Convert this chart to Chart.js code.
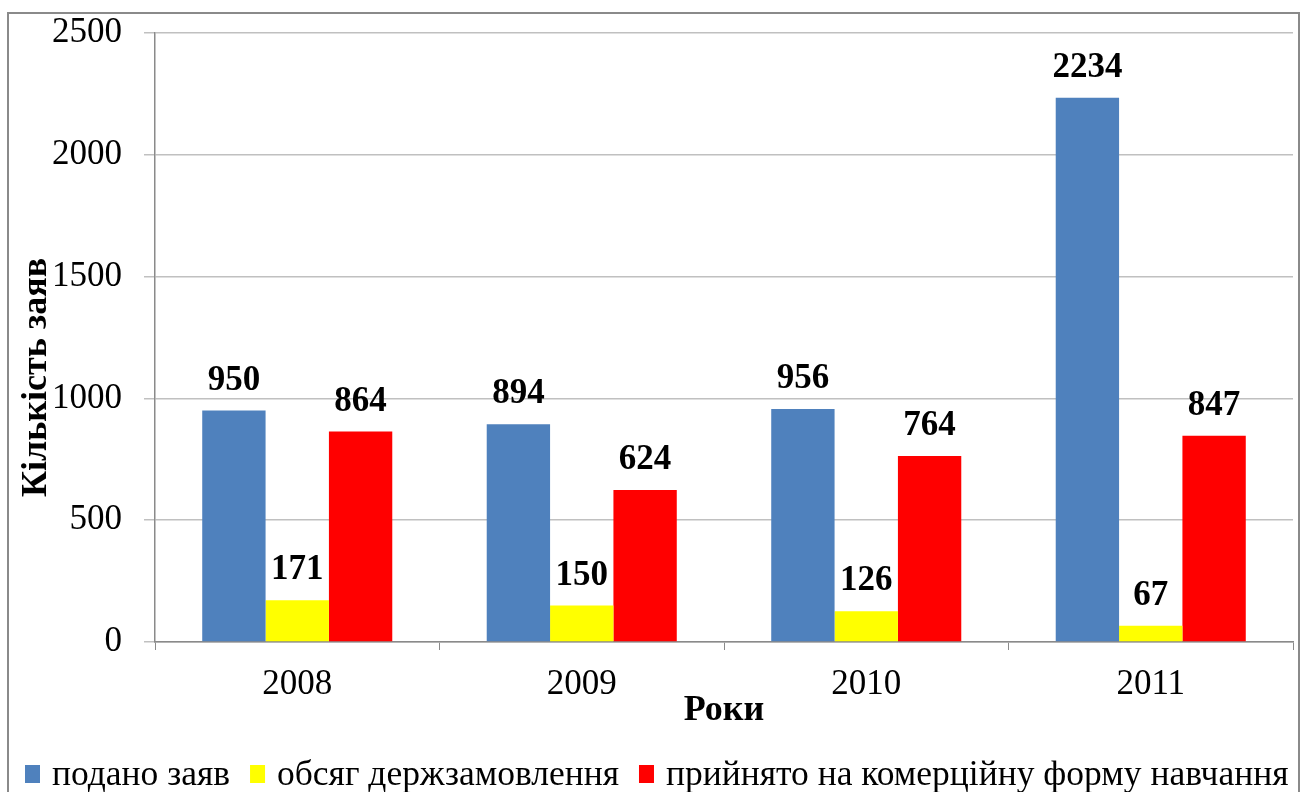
<!DOCTYPE html>
<html>
<head>
<meta charset="utf-8">
<script src="https://cdn.jsdelivr.net/npm/chart.js@4/dist/chart.umd.min.js"></script>
<style>
  body { margin: 0; background: #fff; }
  #wrap { position: relative; width: 1300px; height: 792px; overflow: hidden; }
  #frame { position: absolute; left: 7px; top: 12px; width: 1289px; height: 800px;
           border: 2px solid #8a8a8a; }
  canvas { position: absolute; left: 0; top: 0; }
</style>
</head>
<body>
<div id="wrap">
  <div id="frame"></div>
  <canvas id="chart" width="1300" height="800"></canvas>
</div>
<script>
// Data
var years = ['2008', '2009', '2010', '2011'];
var submitted = [950, 894, 956, 2234];
var stateOrder = [171, 150, 126, 67];
var commercial = [864, 624, 764, 847];
var seriesNames = ['подано заяв', 'обсяг держзамовлення', 'прийнято на комерційну форму навчання'];
var seriesColors = ['#4f81bd', '#ffff00', '#ff0000'];
var yTicks = [0, 500, 1000, 1500, 2000, 2500];
var yTitle = 'Кількість заяв';

var serif = "'Liberation Serif', 'Times New Roman', serif";
Chart.defaults.font.family = serif;
Chart.defaults.color = '#000';

// value labels, y axis title (a bit below centre in the original) and the legend row
var extras = {
  id: 'extras',
  afterDatasetsDraw: function(chart) {
    var ctx = chart.ctx;
    ctx.save();
    ctx.font = 'bold 35px ' + serif;
    ctx.fillStyle = '#000';
    ctx.textAlign = 'center';
    ctx.textBaseline = 'middle';
    chart.data.datasets.forEach(function(ds, i) {
      chart.getDatasetMeta(i).data.forEach(function(bar, j) {
        ctx.fillText(ds.data[j], bar.x, bar.y - 30);
      });
    });
    ctx.restore();
  },
  afterDraw: function(chart) {
    var ctx = chart.ctx;
    var area = chart.chartArea;
    ctx.save();
    ctx.translate(37, (area.top + area.bottom) / 2 + 40);
    ctx.rotate(-Math.PI / 2);
    ctx.font = 'bold 36px ' + serif;
    ctx.fillStyle = '#000';
    ctx.textAlign = 'center';
    ctx.textBaseline = 'middle';
    ctx.fillText(yTitle, 0, 0);
    ctx.restore();

    // legend
    ctx.save();
    ctx.font = '35.5px ' + serif;
    ctx.textBaseline = 'alphabetic';
    var x = 25, base = 785;
    chart.data.datasets.forEach(function(ds) {
      ctx.fillStyle = ds.backgroundColor;
      ctx.fillRect(x, base - 20, 15, 18);
      x += 27;
      ctx.fillStyle = '#000';
      ctx.fillText(ds.label, x, base);
      x += ctx.measureText(ds.label).width + 20;
    });
    ctx.restore();
  }
};

var ctx = document.getElementById('chart').getContext('2d');
var myChart = new Chart(ctx, {
  type: 'bar',
  data: {
    labels: years,
    datasets: seriesNames.map(function(name, i) {
      return {
        label: name,
        data: [submitted, stateOrder, commercial][i],
        backgroundColor: seriesColors[i]
      };
    })
  },
  options: {
    responsive: false,
    animation: false,
    devicePixelRatio: 1,
    categoryPercentage: 0.668,
    barPercentage: 1,
    layout: { padding: { left: 14, right: 7, top: 33, bottom: 52 } },
    plugins: {
      tooltip: { enabled: false },
      legend: { display: false }
    },
    scales: {
      x: {
        afterFit: function(scale) { scale.height = 106; },
        grid: { drawOnChartArea: false, color: '#8a8a8a', tickLength: 8 },
        border: { color: '#8a8a8a', width: 1.5 },
        ticks: { font: { size: 35, lineHeight: 1 }, padding: 17 },
        title: { display: true, text: 'Роки', font: { size: 36, weight: 'bold', lineHeight: 1 }, padding: { top: 0, bottom: 19 } }
      },
      y: {
        min: 0,
        max: 2500,
        afterBuildTicks: function(scale) {
          scale.ticks = yTicks.map(function(v) { return { value: v }; });
        },
        afterFit: function(scale) { scale.width = 141; },
        grid: { color: '#c0c0c0', lineWidth: 1.5, tickLength: 11 },
        border: { color: '#8a8a8a', width: 1.5 },
        ticks: {
          font: { size: 35, lineHeight: 0.5 },
          padding: 22,
          callback: function(v) { return String(v); }
        }
      }
    }
  },
  plugins: [extras]
});
</script>
</body>
</html>
